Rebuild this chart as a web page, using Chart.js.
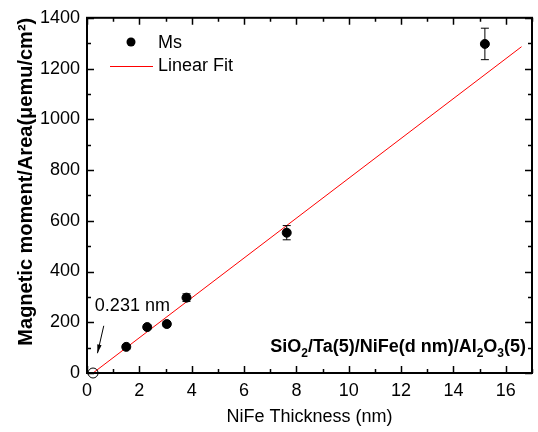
<!DOCTYPE html>
<html>
<head>
<meta charset="utf-8">
<script src="https://cdn.jsdelivr.net/npm/chart.js@4.4.0/dist/chart.umd.min.js"></script>
<style>
  html, body { margin: 0; padding: 0; background: #fff; }
  #wrap { width: 538px; height: 432px; }
</style>
</head>
<body>
<div id="wrap"><canvas id="chart" width="538" height="432"></canvas></div>
<script>
// measured points (NiFe thickness in nm, Ms per area in uemu/cm2)
const thickness = [1.5, 2.3, 3.05, 3.8, 7.63, 15.2];
const moment = [103, 181, 193, 297, 553, 1297];
const momentErr = [8, 8, 10, 15, 28, 62];

// linear fit endpoints
const fitX = [0.231, 16.6];
const fitY = [0, 1286];

// dead layer intercept
const interceptX = [0.231];
const interceptY = [0];

const xTicks = [0, 2, 4, 6, 8, 10, 12, 14, 16];
const yTicks = [0, 200, 400, 600, 800, 1000, 1200, 1400];

const xTitle = "NiFe Thickness (nm)";
const yTitle = "Magnetic moment/Area(\u03bcemu/cm\u00b2)";
const interceptLabel = "0.231 nm";
const FONT = "'Liberation Sans', Arial, sans-serif";

const toPts = (xs, ys) => xs.map((x, i) => ({ x: x, y: ys[i] }));

// frame, inward ticks on all four sides, error bars, legend and text
const decor = {
  id: "decor",
  afterDatasetsDraw(chart) {
    const ctx = chart.ctx;
    const a = chart.chartArea;
    const xs = chart.scales.x;
    const ys = chart.scales.y;
    ctx.save();

    // error bars
    ctx.strokeStyle = "#000";
    ctx.lineWidth = 1;
    thickness.forEach((t, i) => {
      const px = xs.getPixelForValue(t);
      const top = ys.getPixelForValue(moment[i] + momentErr[i]);
      const bot = ys.getPixelForValue(moment[i] - momentErr[i]);
      ctx.beginPath();
      ctx.moveTo(px, top); ctx.lineTo(px, bot);
      ctx.moveTo(px - 4, top); ctx.lineTo(px + 4, top);
      ctx.moveTo(px - 4, bot); ctx.lineTo(px + 4, bot);
      ctx.stroke();
    });

    // ticks
    ctx.lineWidth = 1.5;
    ctx.beginPath();
    for (let v = xs.min; v <= xs.max; v += 1) {
      const px = Math.round(xs.getPixelForValue(v)) + 0.5;
      const len = v % 2 === 0 ? 7 : 4;
      ctx.moveTo(px, a.bottom); ctx.lineTo(px, a.bottom - len);
      ctx.moveTo(px, a.top); ctx.lineTo(px, a.top + len);
    }
    for (let v = ys.min; v <= ys.max; v += 100) {
      const py = Math.round(ys.getPixelForValue(v)) + 0.5;
      const len = v % 200 === 0 ? 7 : 4;
      ctx.moveTo(a.left, py); ctx.lineTo(a.left + len, py);
      ctx.moveTo(a.right, py); ctx.lineTo(a.right - len, py);
    }
    ctx.stroke();

    // frame
    ctx.lineWidth = 2;
    ctx.strokeRect(a.left, a.top, a.right - a.left, a.bottom - a.top);

    // legend
    const lx = a.left + 44;
    ctx.fillStyle = "#000";
    ctx.beginPath();
    ctx.arc(lx, 42, 4.5, 0, Math.PI * 2);
    ctx.fill();
    ctx.strokeStyle = "#ff0000";
    ctx.lineWidth = 1;
    ctx.beginPath();
    ctx.moveTo(a.left + 23, 66.5); ctx.lineTo(a.left + 66, 66.5);
    ctx.stroke();
    ctx.font = "18px " + FONT;
    ctx.textBaseline = "middle";
    ctx.textAlign = "left";
    ctx.fillText(chart.data.datasets[0].label, a.left + 71, 43);
    ctx.fillText(chart.data.datasets[1].label, a.left + 71, 66);

    // intercept annotation and arrow
    ctx.textBaseline = "alphabetic";
    ctx.fillText(interceptLabel, xs.getPixelForValue(0.3), ys.getPixelForValue(245));
    const ax0 = xs.getPixelForValue(0.64), ay0 = ys.getPixelForValue(186);
    const ax1 = xs.getPixelForValue(0.40), ay1 = ys.getPixelForValue(78);
    ctx.strokeStyle = "#000";
    ctx.beginPath();
    ctx.moveTo(ax0, ay0); ctx.lineTo(ax1, ay1);
    ctx.stroke();
    const ang = Math.atan2(ay1 - ay0, ax1 - ax0);
    ctx.beginPath();
    ctx.moveTo(ax1, ay1);
    ctx.lineTo(ax1 - 9 * Math.cos(ang - 0.25), ay1 - 9 * Math.sin(ang - 0.25));
    ctx.lineTo(ax1 - 9 * Math.cos(ang + 0.25), ay1 - 9 * Math.sin(ang + 0.25));
    ctx.closePath();
    ctx.fill();

    // sample stack label with subscripts
    const parts = [["SiO", 0], ["2", 1], ["/Ta(5)/NiFe(d nm)/Al", 0], ["2", 1], ["O", 0], ["3", 1], ["(5)", 0]];
    const big = "bold 18px " + FONT, small = "bold 12px " + FONT;
    let w = 0;
    parts.forEach(p => { ctx.font = p[1] ? small : big; w += ctx.measureText(p[0]).width; });
    let tx = a.right - 6 - w;
    const ty = ys.getPixelForValue(82);
    parts.forEach(p => {
      ctx.font = p[1] ? small : big;
      ctx.fillText(p[0], tx, p[1] ? ty + 5 : ty);
      tx += ctx.measureText(p[0]).width;
    });
    ctx.restore();
  }
};

new Chart(document.getElementById("chart").getContext("2d"), {
  type: "scatter",
  data: {
    datasets: [
      {
        label: "Ms",
        data: toPts(thickness, moment),
        backgroundColor: "#000",
        borderColor: "#000",
        pointRadius: 4.5,
        order: 1,
      },
      {
        label: "Linear Fit",
        type: "line",
        data: toPts(fitX, fitY),
        borderColor: "#ff0000",
        borderWidth: 1,
        pointRadius: 0,
        fill: false,
        order: 2,
      },
      {
        label: "intercept",
        data: toPts(interceptX, interceptY),
        backgroundColor: "rgba(0,0,0,0)",
        borderColor: "#000",
        borderWidth: 1,
        pointRadius: 5,
        clip: false,
        order: 0,
      },
    ],
  },
  options: {
    responsive: false,
    animation: false,
    events: [],
    layout: { padding: { top: 6, right: 1, left: 0, bottom: 0 } },
    plugins: { legend: { display: false }, tooltip: { enabled: false } },
    scales: {
      x: {
        type: "linear",
        min: 0,
        max: 17,
        afterBuildTicks: (s) => { s.ticks = xTicks.map(v => ({ value: v })); },
        afterFit: (s) => { s.height = 59; },
        grid: { display: false, drawTicks: false },
        border: { display: false },
        ticks: { color: "#000", padding: 7, font: { family: FONT, size: 18 }, callback: (v) => String(v) },
        title: { display: true, text: xTitle, color: "#000", padding: { top: 0 }, font: { family: FONT, size: 18 } },
      },
      y: {
        min: 0,
        max: 1400,
        afterBuildTicks: (s) => { s.ticks = yTicks.map(v => ({ value: v })); },
        afterFit: (s) => { s.width = 87; },
        grid: { display: false, drawTicks: false },
        border: { display: false },
        ticks: { color: "#000", padding: 7, font: { family: FONT, size: 18 }, callback: (v) => String(v) },
        title: { display: true, text: yTitle, color: "#000", align: "end", padding: { top: 14, bottom: 0 }, font: { family: FONT, size: 20, weight: "bold" } },
      },
    },
  },
  plugins: [decor],
});
</script>
</body>
</html>
